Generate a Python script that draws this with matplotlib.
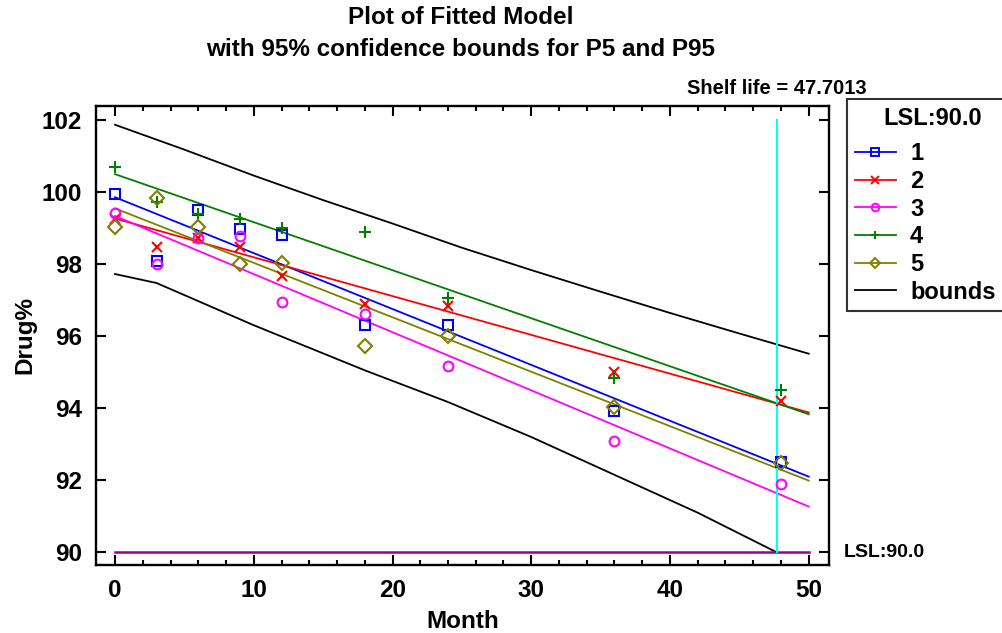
import matplotlib
matplotlib.use("Agg")
import matplotlib.pyplot as plt
from matplotlib.lines import Line2D
from matplotlib.ticker import MultipleLocator
import matplotlib.transforms as mtransforms

plt.rcParams['font.family'] = ['Liberation Sans', 'DejaVu Sans']
plt.rcParams['font.weight'] = 'bold'

# ---- data ----
months = [0, 3, 6, 9, 12, 18, 24, 36, 48]
batch_labels = ["1", "2", "3", "4", "5"]
batch1 = [99.93, 98.08, 99.50, 98.96, 98.79, 96.31, 96.31, 93.92, 92.51]
batch2 = [99.24, 98.47, 98.73, 98.48, 97.67, 96.90, 96.83, 95.01, 94.20]
batch3 = [99.42, 98.01, 98.73, 98.78, 96.94, 96.60, 95.16, 93.09, 91.89]
batch4 = [100.69, 99.72, 99.38, 99.24, 99.01, 98.89, 97.06, 94.85, 94.51]
batch5 = [99.02, 99.84, 99.02, 97.99, 98.02, 95.71, 96.00, 94.04, 92.49]
batches = [batch1, batch2, batch3, batch4, batch5]

# fitted lines: value at month 0 and month 50
fit_months = [0, 50]
fit1 = [99.85, 92.10]
fit2 = [99.26, 93.88]
fit3 = [99.33, 91.27]
fit4 = [100.49, 93.83]
fit5 = [99.54, 91.99]
fits = [fit1, fit2, fit3, fit4, fit5]

# confidence bounds
upper_months = [0, 5, 10, 15, 20, 25, 30, 35, 40, 45, 50]
upper_vals = [101.86, 101.17, 100.45, 99.77, 99.12, 98.45, 97.83, 97.23, 96.64, 96.07, 95.51]
shelf_life = 47.7013
lower_months = [0, 3, 10, 18, 24, 30, 36, 42, shelf_life]
lower_vals = [97.72, 97.47, 96.30, 95.05, 94.17, 93.20, 92.15, 91.10, 90.0]

lsl = 90.0
lsl_months = [0, 50]
shelf_top = 102.0

colors = ["#0000ff", "#ff0000", "#ff00ff", "#008000", "#808000"]
markers = ["s", "x", "o", "+", "D"]
msizes = [7, 7, 7, 8, 7.5]

# ---- figure ----
fig = plt.figure(figsize=(10.03, 6.33), dpi=100)
ax = fig.add_axes([96/1003, 1-565/633, (829-96)/1003, (565-106)/633])

for vals, fit, c, m, ms in zip(batches, fits, colors, markers, msizes):
    ax.plot(fit_months, fit, color=c, lw=1.3, zorder=2)
    ax.plot(months, vals, linestyle='none', marker=m, markersize=ms,
            markerfacecolor='none', markeredgecolor=c, markeredgewidth=1.5, zorder=3)

ax.plot(upper_months, upper_vals, color='black', lw=1.3, zorder=2)
ax.plot(lower_months, lower_vals, color='black', lw=1.3, zorder=2)
ax.plot(lsl_months, [lsl, lsl], color='#990099', lw=1.8, zorder=2)
ax.plot([shelf_life, shelf_life], [lsl, shelf_top], color='#00ffff', lw=1.5, zorder=2)

ax.set_xlim(-1.37, 51.46)
ax.set_ylim(89.65, 102.38)
ax.xaxis.set_major_locator(MultipleLocator(10))
ax.xaxis.set_minor_locator(MultipleLocator(2))
ax.yaxis.set_major_locator(MultipleLocator(2))
ax.tick_params(which='both', direction='in', top=True, right=True, width=1.5)
ax.tick_params(which='major', length=7, labelsize=17.5, pad=10)
ax.tick_params(which='minor', length=3.5)
for s in ax.spines.values():
    s.set_linewidth(1.7)
for lab in ax.get_xticklabels() + ax.get_yticklabels():
    lab.set_fontweight('bold')

ax.set_xlabel("Month", fontsize=17.5, fontweight='bold', labelpad=6)
ax.set_ylabel("Drug%", fontsize=17.5, fontweight='bold', labelpad=4)

# titles
fig.text(461/1003, 1-18/633, "Plot of Fitted Model", ha='center', va='center',
         fontsize=17.5, fontweight='bold')
fig.text(461/1003, 1-50/633, "with 95% confidence bounds for P5 and P95", ha='center',
         va='center', fontsize=17.5, fontweight='bold')

trans = mtransforms.blended_transform_factory(ax.transData, ax.transAxes)
ax.text(shelf_life, 1 + 18/459, "Shelf life = %.4f" % shelf_life, transform=trans,
        ha='center', va='center', fontsize=14.5, fontweight='bold')
trans2 = mtransforms.blended_transform_factory(ax.transAxes, ax.transData)
ax.text(1 + 15/733, lsl, "LSL:%.1f" % lsl, transform=trans2, ha='left', va='center',
        fontsize=14, fontweight='bold')

# legend
handles = [Line2D([0], [0], color=c, marker=m, markersize=5.5, markerfacecolor='none',
                  markeredgecolor=c, markeredgewidth=1.4, lw=1.3)
           for c, m in zip(colors, markers)]
handles.append(Line2D([0], [0], color='black', lw=1.3))
leg = fig.legend(handles, batch_labels + ["bounds"], loc='upper left',
                 bbox_to_anchor=(847/1003, 1-99/633, 0.17, 0), mode='expand',
                 title="LSL:%.1f" % lsl,
                 fontsize=17, title_fontsize=17, frameon=True, fancybox=False,
                 edgecolor='black', handlelength=1.75, handletextpad=0.6,
                 labelspacing=0.2, borderpad=0.32, borderaxespad=0)
leg.get_frame().set_linewidth(1.5)
leg.get_title().set_fontweight('bold')
for t in leg.get_texts():
    t.set_fontweight('bold')
leg._legend_box.sep = 9

fig.savefig("out.png", dpi=100)
